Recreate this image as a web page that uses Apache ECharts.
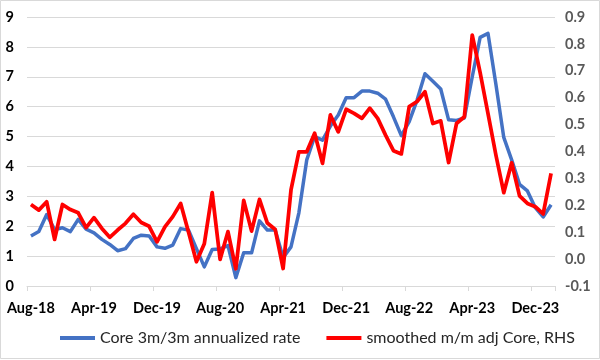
<!DOCTYPE html>
<html>
<head>
<meta charset="utf-8">
<script src="https://cdn.jsdelivr.net/npm/echarts@6/dist/echarts.min.js"></script>
<style>
html,body{margin:0;padding:0;background:#fff;}
#c{width:600px;height:360px;}
</style>
</head>
<body>
<div id="c"></div>
<script>
const months = ["Aug-18","Sep-18","Oct-18","Nov-18","Dec-18","Jan-19","Feb-19","Mar-19","Apr-19","May-19","Jun-19","Jul-19",
"Aug-19","Sep-19","Oct-19","Nov-19","Dec-19","Jan-20","Feb-20","Mar-20","Apr-20","May-20","Jun-20","Jul-20",
"Aug-20","Sep-20","Oct-20","Nov-20","Dec-20","Jan-21","Feb-21","Mar-21","Apr-21","May-21","Jun-21","Jul-21",
"Aug-21","Sep-21","Oct-21","Nov-21","Dec-21","Jan-22","Feb-22","Mar-22","Apr-22","May-22","Jun-22","Jul-22",
"Aug-22","Sep-22","Oct-22","Nov-22","Dec-22","Jan-23","Feb-23","Mar-23","Apr-23","May-23","Jun-23","Jul-23",
"Aug-23","Sep-23","Oct-23","Nov-23","Dec-23","Jan-24","Feb-24"];

const core3m3m = [1.67,1.82,2.39,1.89,1.95,1.82,2.23,1.90,1.78,1.56,1.39,1.18,
1.25,1.59,1.70,1.67,1.31,1.26,1.37,1.92,1.87,1.25,0.64,1.22,
1.24,1.35,0.28,1.11,1.11,2.18,1.87,1.87,0.95,1.31,2.45,4.22,
5.00,4.88,5.35,5.72,6.30,6.30,6.52,6.52,6.45,6.25,5.66,5.03,
5.50,6.22,7.10,6.85,6.59,5.56,5.54,5.62,7.00,8.32,8.45,6.75,
4.97,4.22,3.40,3.18,2.62,2.31,2.72];

const smoothedMM = [0.203,0.182,0.213,0.073,0.203,0.184,0.172,0.117,0.154,0.114,0.081,0.108,
0.133,0.167,0.136,0.122,0.064,0.120,0.158,0.207,0.100,-0.010,0.057,0.247,
-0.001,0.102,-0.036,0.218,0.104,0.222,0.134,0.110,-0.035,0.257,0.399,0.399,
0.468,0.356,0.536,0.473,0.557,0.542,0.523,0.561,0.523,0.461,0.403,0.391,
0.567,0.586,0.622,0.504,0.514,0.359,0.504,0.529,0.833,0.693,0.541,0.387,
0.247,0.358,0.235,0.207,0.195,0.168,0.319];

const seriesNames = ["Core 3m/3m annualized rate","smoothed m/m adj Core, RHS"];

const FONT = "Lato";
const chart = echarts.init(document.getElementById('c'), null, {renderer:'canvas'});
chart.setOption({
  animation:false,
  backgroundColor:'#ffffff',
  graphic:[{type:'rect',shape:{x:0.5,y:0.5,width:599,height:358},style:{fill:'none',stroke:'#d9d9d9',lineWidth:1},z:-1,silent:true}],
  grid:{left:27,right:45,top:17,bottom:74,containLabel:false},
  legend:{
    data:seriesNames,
    left:55, top:325,
    itemWidth:35, itemHeight:4, itemGap:26,
    icon:'rect',
    textStyle:{fontFamily:FONT,fontSize:16,color:'#262626'}
  },
  xAxis:{
    type:'category',
    data:months,
    boundaryGap:true,
    axisLine:{show:true,lineStyle:{color:'#d9d9d9',width:1}},
    axisTick:{show:true,interval:7,length:5,lineStyle:{color:'#d9d9d9'}},
    axisLabel:{interval:7,fontFamily:FONT,fontWeight:'bold',fontSize:14.5,color:'#000',margin:15},
    splitLine:{show:false}
  },
  yAxis:[{
    type:'value',min:0,max:9,interval:1,
    axisLine:{show:false},axisTick:{show:false},
    axisLabel:{fontFamily:FONT,fontWeight:'bold',fontSize:14.5,color:'#000',margin:13},
    splitLine:{show:true,lineStyle:{color:'#d9d9d9',width:1}}
  },{
    type:'value',min:-0.1,max:0.9,interval:0.1,
    axisLine:{show:false},axisTick:{show:false},
    axisLabel:{fontFamily:FONT,fontWeight:'bold',fontSize:14.5,color:'#595959',margin:10,
      formatter:function(v){return (Math.round(v*10)/10).toFixed(1);}},
    splitLine:{show:false}
  }],
  series:[{
    name:seriesNames[0],type:'line',yAxisIndex:0,data:core3m3m,
    showSymbol:false,symbol:'none',
    lineStyle:{color:'#4472C4',width:3.5,join:'round'},itemStyle:{color:'#4472C4'}
  },{
    name:seriesNames[1],type:'line',yAxisIndex:1,data:smoothedMM,
    showSymbol:false,symbol:'none',
    lineStyle:{color:'#FF0000',width:3.75,join:'round'},itemStyle:{color:'#FF0000'}
  }]
});
</script>
</body>
</html>
